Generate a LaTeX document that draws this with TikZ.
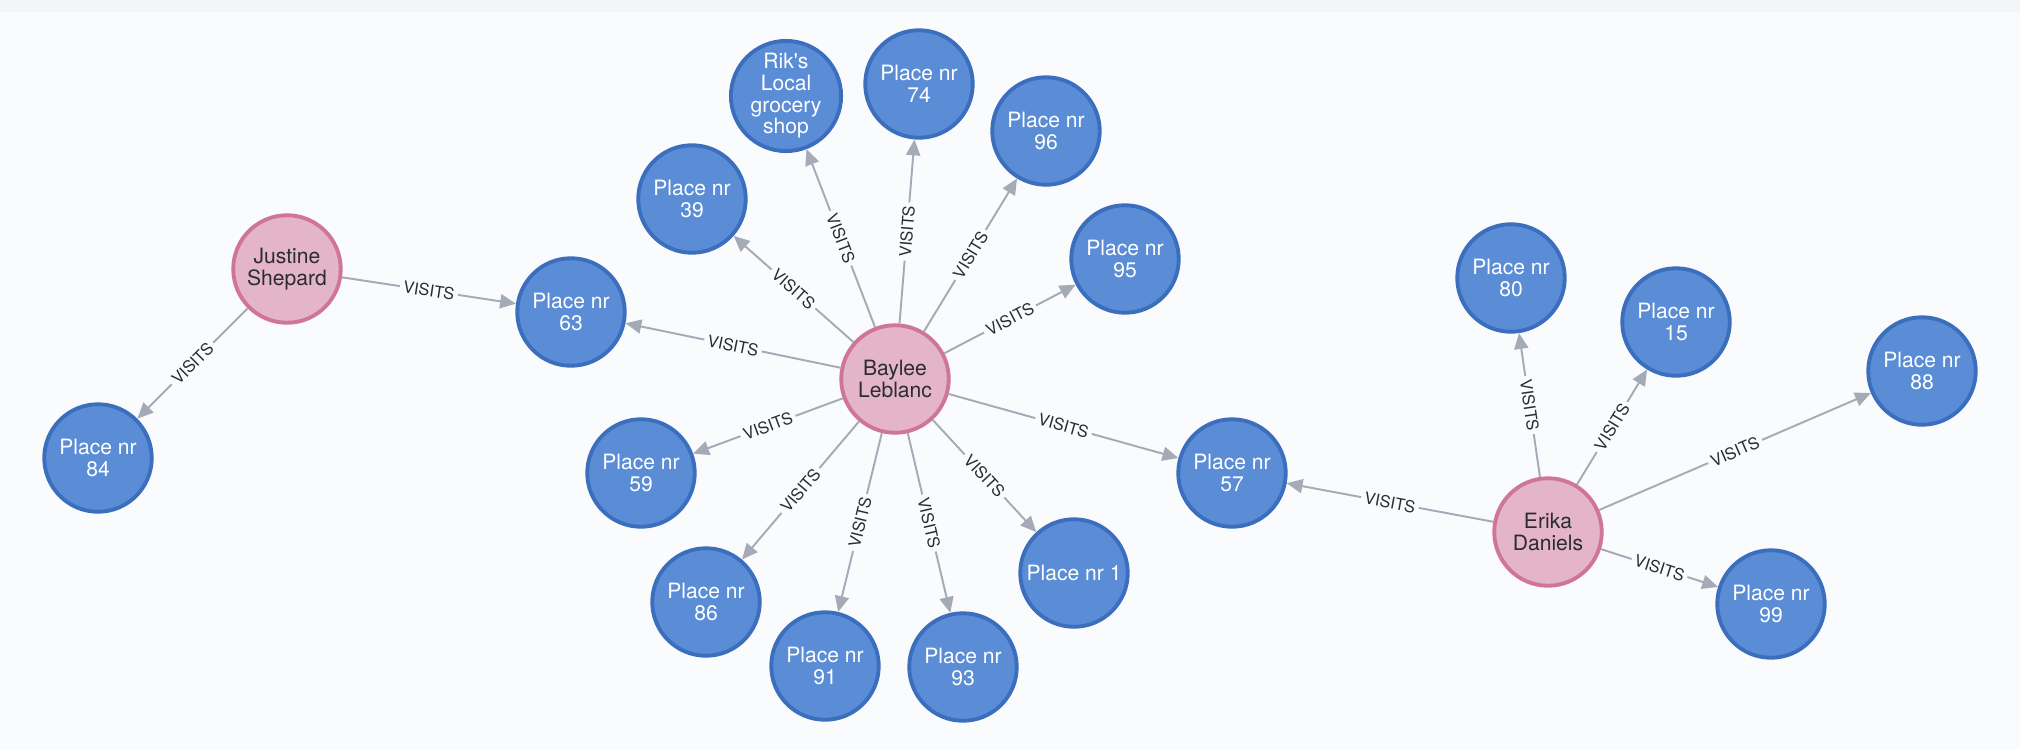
\documentclass[tikz,border=0pt]{standalone}
\usepackage{fontspec}
\newfontfamily\helv{TeX Gyre Heros}
\usetikzlibrary{positioning,arrows.meta}
\definecolor{canvas}{HTML}{F9FBFD}
\definecolor{topband}{HTML}{F3F5F8}
\definecolor{placeFill}{HTML}{5A8DD6}
\definecolor{placeLine}{HTML}{3C6EBE}
\definecolor{personFill}{HTML}{E4B5C7}
\definecolor{personLine}{HTML}{CF7597}
\definecolor{relGray}{HTML}{A5ABB6}
\definecolor{txtDark}{HTML}{2A2C34}

\begin{document}
\begin{tikzpicture}[every text node part/.style={align=center},on grid]
\tikzset{myFont/.style={font=\helv\fontsize{12}{12.3}\selectfont}}
\tikzset{myNode/.style={draw,circle,line width=2.2pt,minimum size=2.15cm,inner sep=0pt,myFont}}
\tikzset{place/.style={myNode,fill=placeFill,draw=placeLine,text=white}}
\tikzset{person/.style={myNode,fill=personFill,draw=personLine,text=txtDark}}
\tikzset{visits/.style={draw,color=relGray,line width=1.1pt,-{Triangle[length=9pt,width=8pt,fill=relGray]}}}
\tikzset{relLabel/.style={sloped,fill=canvas,inner sep=2pt,text=txtDark,font=\helv\fontsize{9.3}{10}\selectfont}}

% canvas
\fill[canvas] (0,0) rectangle (40.4,-15);
\fill[topband] (0,0) rectangle (40.4,-0.24);

% Baylee and her places
\node[person] (baylee) at (17.9,-7.58) {Baylee\\Leblanc};
\node[place,above left=1.34cm and 6.48cm of baylee] (p63) {Place nr\\63};
\node[place,above left=3.6cm and 4.06cm of baylee] (p39) {Place nr\\39};
\node[place,above left=5.66cm and 2.18cm of baylee] (riks) {Rik\textquotesingle s\\Local\\grocery\\shop};
\node[place,above right=5.9cm and 0.48cm of baylee] (p74) {Place nr\\74};
\node[place,above right=4.96cm and 3.02cm of baylee] (p96) {Place nr\\96};
\node[place,above right=2.4cm and 4.6cm of baylee] (p95) {Place nr\\95};
\node[place,below left=1.88cm and 5.08cm of baylee] (p59) {Place nr\\59};
\node[place,below left=4.46cm and 3.78cm of baylee] (p86) {Place nr\\86};
\node[place,below left=5.74cm and 1.4cm of baylee] (p91) {Place nr\\91};
\node[place,below right=5.76cm and 1.36cm of baylee] (p93) {Place nr\\93};
\node[place,below right=3.88cm and 3.58cm of baylee] (p1) {Place nr 1};
\node[place,below right=1.88cm and 6.74cm of baylee] (p57) {Place nr\\57};

% Justine
\node[person,above left=0.86cm and 5.68cm of p63] (justine) {Justine\\Shepard};
\node[place,below left=3.78cm and 3.78cm of justine] (p84) {Place nr\\84};

% Erika
\node[person,below right=1.18cm and 6.32cm of p57] (erika) {Erika\\Daniels};
\node[place,above left=5.08cm and 0.74cm of erika] (p80) {Place nr\\80};
\node[place,above right=4.2cm and 2.56cm of erika] (p15) {Place nr\\15};
\node[place,above right=3.22cm and 7.48cm of erika] (p88) {Place nr\\88};
\node[place,below right=1.44cm and 4.46cm of erika] (p99) {Place nr\\99};

\path[visits] (justine) edge node[relLabel]{VISITS} (p63);
\path[visits] (justine) edge node[relLabel]{VISITS} (p84);

\path[visits] (baylee) edge node[relLabel]{VISITS} (p63);
\path[visits] (baylee) edge node[relLabel]{VISITS} (p39);
\path[visits] (baylee) edge node[relLabel]{VISITS} (riks);
\path[visits] (baylee) edge node[relLabel]{VISITS} (p74);
\path[visits] (baylee) edge node[relLabel]{VISITS} (p96);
\path[visits] (baylee) edge node[relLabel]{VISITS} (p95);
\path[visits] (baylee) edge node[relLabel]{VISITS} (p59);
\path[visits] (baylee) edge node[relLabel]{VISITS} (p86);
\path[visits] (baylee) edge node[relLabel]{VISITS} (p91);
\path[visits] (baylee) edge node[relLabel]{VISITS} (p93);
\path[visits] (baylee) edge node[relLabel]{VISITS} (p1);
\path[visits] (baylee) edge node[relLabel]{VISITS} (p57);

\path[visits] (erika) edge node[relLabel]{VISITS} (p57);
\path[visits] (erika) edge node[relLabel]{VISITS} (p80);
\path[visits] (erika) edge node[relLabel]{VISITS} (p15);
\path[visits] (erika) edge node[relLabel]{VISITS} (p88);
\path[visits] (erika) edge node[relLabel]{VISITS} (p99);
\end{tikzpicture}
\end{document}
